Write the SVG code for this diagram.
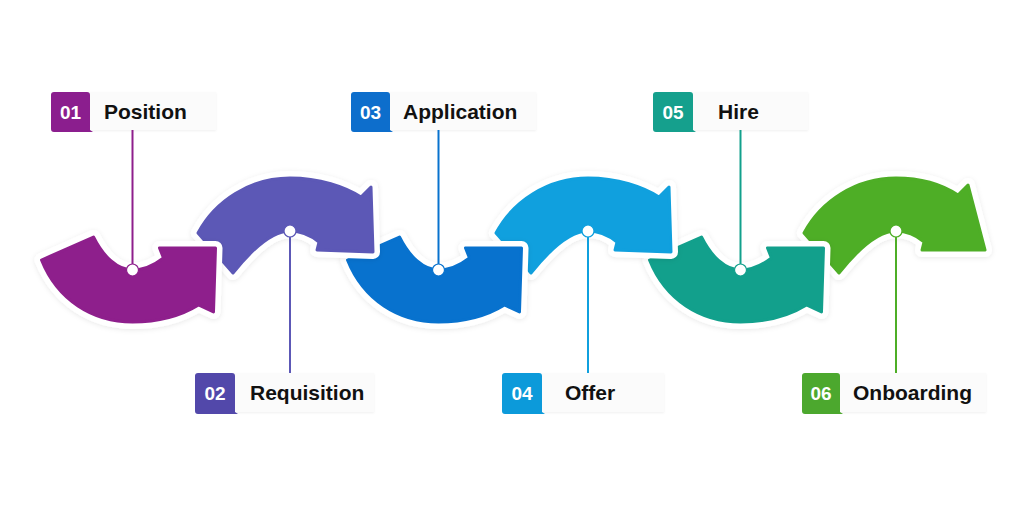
<svg xmlns="http://www.w3.org/2000/svg" xmlns:xlink="http://www.w3.org/1999/xlink" width="1024" height="512" viewBox="0 0 1024 512">
<defs>
<path id="dn" d="M -91 -10 L -39 -33 C -29 -13 -15 0 0 0 C 12 0 22 -5 31 -12 L 27 -22 L 83 -22 L 81 42 L 66 35 C 45 48 20 52 0 52 C -40 52 -75 30 -91 -10 Z"/>
<path id="up" d="M -92 2 C -75 -30 -40 -53 0 -53 C 30 -53 55 -44 71 -34 L 81 -44 L 83 21 L 27 19 L 29 11 C 19 3 10 0 0 0 C -14 0 -33 12 -57 42 Z"/>
<path id="up6" d="M -92 2 C -75 -30 -40 -53 0 -53 C 25 -53 47 -46 62 -36 L 72 -46 L 89 19 L 26 19 L 28 11 C 19 3 10 0 0 0 C -14 0 -33 12 -57 42 Z"/>
<filter id="sh" x="-20%" y="-20%" width="140%" height="140%"><feDropShadow dx="0" dy="1" stdDeviation="2.5" flood-color="#000" flood-opacity="0.09"/></filter>
<filter id="lsh" x="-10%" y="-20%" width="120%" height="150%"><feDropShadow dx="0" dy="1" stdDeviation="1.2" flood-color="#000" flood-opacity="0.06"/></filter>
</defs>
<style>
.halo{fill:#fff;stroke:#fff;stroke-width:14;stroke-linejoin:round;filter:url(#sh)}
.arr{stroke-width:3;stroke-linejoin:round}
.num{font-family:"Liberation Sans",Arial,sans-serif;font-weight:700;font-size:19px;fill:#fff;text-anchor:middle}
.lbl{font-family:"Liberation Sans",Arial,sans-serif;font-weight:700;font-size:21px;fill:#111}
.lbg{fill:#fbfbfb;filter:url(#lsh)}
.con{stroke-width:2;fill:none}
.dot{fill:#fff;stroke-width:1.2}
</style>
<rect width="1024" height="512" fill="#fff"/>

<g id="step6">
<use xlink:href="#up6" transform="translate(896,231)" class="halo"/>
<use xlink:href="#up6" transform="translate(896,231)" class="arr" fill="#4EAE26" stroke="#4EAE26"/>
<rect class="lbg" x="838" y="373" width="148" height="39"/>
<path d="M 805 373 H 837 Q 840 373 840 376 V 412 L 843 414 H 805 Q 802 414 802 411 V 376 Q 802 373 805 373 Z" fill="#4CA82E"/>
<text class="num" x="821" y="399.5">06</text>
<text class="lbl" x="853" y="400">Onboarding</text>
</g>

<g id="step5">
<use xlink:href="#dn" transform="translate(740.5,270)" class="halo"/>
<use xlink:href="#dn" transform="translate(740.5,270)" class="arr" fill="#12A08C" stroke="#12A08C"/>
<rect class="lbg" x="691" y="92" width="117" height="38"/>
<path d="M 656 92 H 690 Q 693 92 693 95 V 130 L 696 132 H 656 Q 653 132 653 129 V 95 Q 653 92 656 92 Z" fill="#15A08D"/>
<text class="num" x="673" y="118.5">05</text>
<text class="lbl" x="718" y="119">Hire</text>
</g>

<g id="step4">
<use xlink:href="#up" transform="translate(588,231)" class="halo"/>
<use xlink:href="#up" transform="translate(588,231)" class="arr" fill="#10A0DE" stroke="#10A0DE"/>
<rect class="lbg" x="540" y="373" width="124" height="39"/>
<path d="M 505 373 H 539 Q 542 373 542 376 V 412 L 545 414 H 505 Q 502 414 502 411 V 376 Q 502 373 505 373 Z" fill="#0C9ADA"/>
<text class="num" x="522" y="399.5">04</text>
<text class="lbl" x="565" y="400">Offer</text>
</g>

<g id="step3">
<use xlink:href="#dn" transform="translate(438.5,270)" class="halo"/>
<use xlink:href="#dn" transform="translate(438.5,270)" class="arr" fill="#0872CE" stroke="#0872CE"/>
<rect class="lbg" x="388" y="92" width="148" height="38"/>
<path d="M 354 92 H 387 Q 390 92 390 95 V 130 L 393 132 H 354 Q 351 132 351 129 V 95 Q 351 92 354 92 Z" fill="#0D6ECC"/>
<text class="num" x="370.5" y="118.5">03</text>
<text class="lbl" x="403" y="119">Application</text>
</g>

<g id="step2">
<use xlink:href="#up" transform="translate(290,231)" class="halo"/>
<use xlink:href="#up" transform="translate(290,231)" class="arr" fill="#5C58B6" stroke="#5C58B6"/>
<rect class="lbg" x="233" y="373" width="141" height="39"/>
<path d="M 198 373 H 232 Q 235 373 235 376 V 412 L 238 414 H 198 Q 195 414 195 411 V 376 Q 195 373 198 373 Z" fill="#5248AA"/>
<text class="num" x="215" y="399.5">02</text>
<text class="lbl" x="250" y="400">Requisition</text>
</g>

<g id="step1">
<use xlink:href="#dn" transform="translate(132.5,270)" class="halo"/>
<use xlink:href="#dn" transform="translate(132.5,270)" class="arr" fill="#8E1F8C" stroke="#8E1F8C"/>
<rect class="lbg" x="88" y="92" width="128" height="38"/>
<path d="M 54 92 H 87 Q 90 92 90 95 V 130 L 93 132 H 54 Q 51 132 51 129 V 95 Q 51 92 54 92 Z" fill="#8B1E8E"/>
<text class="num" x="70.5" y="118.5">01</text>
<text class="lbl" x="104" y="119">Position</text>
</g>

<g id="connectors">
<line class="con" x1="132.5" y1="130" x2="132.5" y2="270" stroke="#8E1F8C"/>
<line class="con" x1="290" y1="231" x2="290" y2="373" stroke="#5C58B6"/>
<line class="con" x1="438.5" y1="130" x2="438.5" y2="270" stroke="#0872CE"/>
<line class="con" x1="588" y1="231" x2="588" y2="373" stroke="#10A0DE"/>
<line class="con" x1="740.5" y1="130" x2="740.5" y2="270" stroke="#12A08C"/>
<line class="con" x1="896" y1="231" x2="896" y2="373" stroke="#4EAE26"/>
<circle class="dot" cx="132.5" cy="270" r="6" stroke="#8E1F8C"/>
<circle class="dot" cx="290" cy="231" r="6" stroke="#5C58B6"/>
<circle class="dot" cx="438.5" cy="270" r="6" stroke="#0872CE"/>
<circle class="dot" cx="588" cy="231" r="6" stroke="#10A0DE"/>
<circle class="dot" cx="740.5" cy="270" r="6" stroke="#12A08C"/>
<circle class="dot" cx="896" cy="231" r="6" stroke="#4EAE26"/>
</g>
</svg>
